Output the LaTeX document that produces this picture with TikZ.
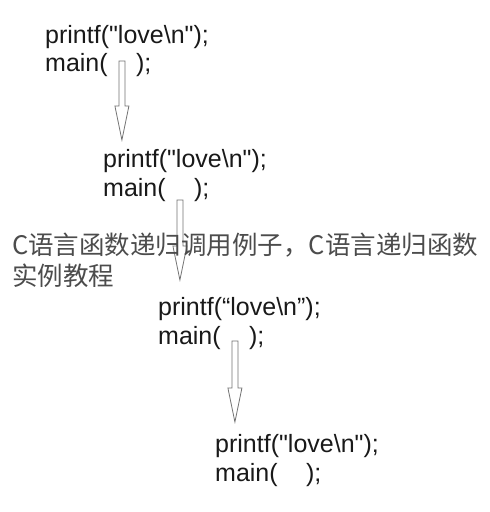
\documentclass[tikz,border=0pt]{standalone}
\usepackage{fontspec}
\setmainfont{Liberation Sans}
\newfontfamily\cjkfont{Noto Sans CJK SC}
\usetikzlibrary{positioning,calc}

\tikzset{
    code/.style={inner sep=0pt, anchor=base west, text=black!90, font=\fontsize{25}{28}\selectfont},
    hollow/.style={draw=black!55, fill=white, line width=0.8pt, line join=miter},
    caption/.style={inner sep=0pt, anchor=base west, text=black!70, font=\cjkfont\fontsize{25.5}{32}\selectfont}
}

\begin{document}
\begin{tikzpicture}[x=1pt,y=-1pt]

\useasboundingbox[fill=white] (0,0) rectangle (490,512);

\foreach \i/\x/\ya/\yb/\qa/\qb in {1/45/43/71/\textquotedbl/\textquotedbl, 2/103/167/196/\textquotedbl/\textquotedbl,
    3/158/315/344/“/”, 4/215/452/481/\textquotedbl/\textquotedbl} {
    \node[code] (p\i) at (\x,\ya) {printf(\qa love\textbackslash n\qb);};
    \node[code] (m\i) at (\x,\yb) {main(};
    \node[code] (c\i) at ($(m\i.base east)+(28,0)$) {);};
    \coordinate (g\i) at ($(m\i.base east)!0.5!(c\i.base west)$);
}

\foreach \i/\top/\tip in {1/61/140, 2/200/280, 3/341/422} {
    \coordinate (s\i) at (g\i |- 0,\top);
    \coordinate (t\i) at (g\i |- 0,\tip);
    \draw[hollow] ($(s\i)+(-3,0)$) -- ($(t\i)+(-3,-34)$) -- ($(t\i)+(-7,-34)$) -- (t\i)
        -- ($(t\i)+(7,-34)$) -- ($(t\i)+(3,-34)$) -- ($(s\i)+(3,0)$) -- cycle;
}

\node[caption] (cap1) at (12,254) {C语言函数递归调用例子，C语言递归函数};
\node[caption] (cap2) at (12,285) {实例教程};

\end{tikzpicture}
\end{document}
